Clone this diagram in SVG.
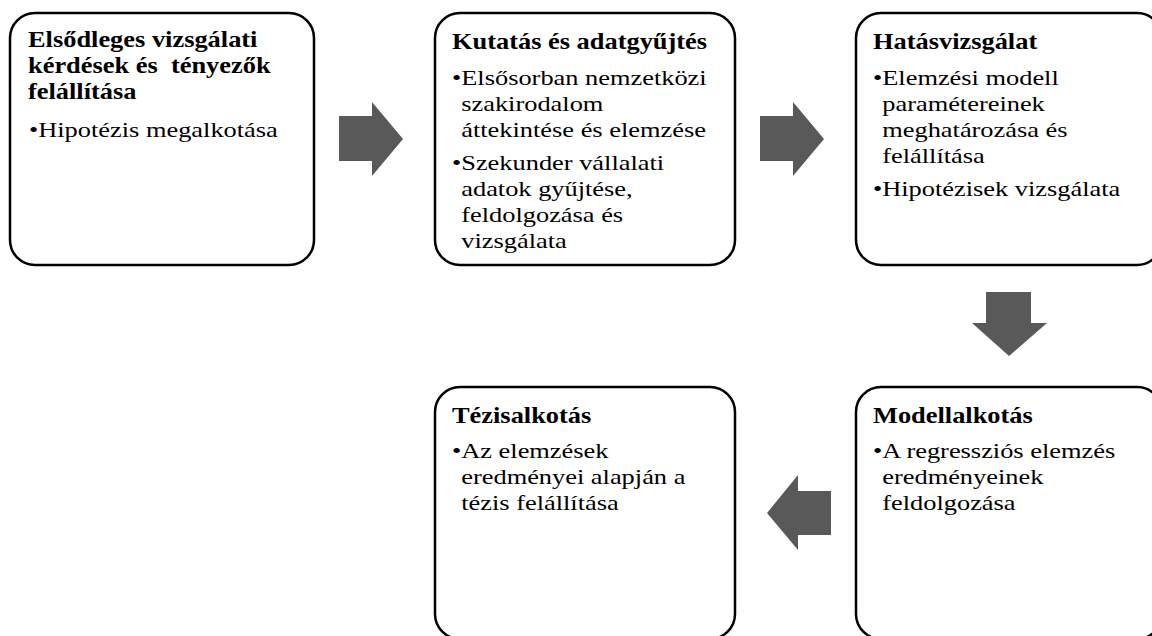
<svg xmlns="http://www.w3.org/2000/svg" width="1152" height="636" viewBox="0 0 1152 636">
<style>
.box{fill:#fff;stroke:#000;stroke-width:2.5}
.t{font-family:"Liberation Serif","Times New Roman",serif;font-weight:bold;font-size:24px;fill:#000;white-space:pre}
.b{font-family:"Liberation Serif","Times New Roman",serif;font-size:22px;fill:#000}
.arr{fill:#595959}
</style>
<rect width="1152" height="636" fill="#fff"/>
<g id="connectors">
<polygon class="arr" points="339,116 372,116 372,102 403,139 372,176 372,161 339,161"/>
<polygon class="arr" points="760,116 793,116 793,102 824,139 793,176 793,161 760,161"/>
<polygon class="arr" points="986,292 1031,292 1031,323 1047,323 1009,356 972,323 986,323"/>
<polygon class="arr" points="831,491 798,491 798,475 767,513 798,550 798,535 831,535"/>
</g>
<g id="node1">
<rect class="box" x="10" y="13" width="304" height="252" rx="25"/>
<g transform="translate(28 0) scale(1.1 1)">
<text class="t" x="0" y="47">Elsődleges vizsgálati</text>
<text class="t" x="0" y="73">kérdések és  tényezők</text>
<text class="t" x="0" y="99">felállítása</text>
</g>
<g transform="translate(29 0) scale(1.2 1)">
<text class="b" x="0" y="137">•Hipotézis megalkotása</text>
</g>
</g>
<g id="node2">
<rect class="box" x="435" y="13" width="300" height="252" rx="25"/>
<g transform="translate(452 0) scale(1.1 1)">
<text class="t" x="0" y="49">Kutatás és adatgyűjtés</text>
</g>
<g transform="translate(452 0) scale(1.2 1)">
<text class="b" x="0" y="85">•Elsősorban nemzetközi</text>
<text class="b" x="7.7" y="111">szakirodalom</text>
<text class="b" x="7.7" y="137">áttekintése és elemzése</text>
<text class="b" x="0" y="170">•Szekunder vállalati</text>
<text class="b" x="7.7" y="196">adatok gyűjtése,</text>
<text class="b" x="7.7" y="222">feldolgozása és</text>
<text class="b" x="7.7" y="248">vizsgálata</text>
</g>
</g>
<g id="node3">
<rect class="box" x="856" y="13" width="306" height="252" rx="25"/>
<g transform="translate(873 0) scale(1.1 1)">
<text class="t" x="0" y="49">Hatásvizsgálat</text>
</g>
<g transform="translate(873 0) scale(1.2 1)">
<text class="b" x="0" y="85">•Elemzési modell</text>
<text class="b" x="7.7" y="111">paramétereinek</text>
<text class="b" x="7.7" y="137">meghatározása és</text>
<text class="b" x="7.7" y="163">felállítása</text>
<text class="b" x="0" y="196">•Hipotézisek vizsgálata</text>
</g>
</g>
<g id="node4">
<rect class="box" x="435" y="387" width="300" height="252" rx="25"/>
<g transform="translate(452 0) scale(1.1 1)">
<text class="t" x="0" y="423">Tézisalkotás</text>
</g>
<g transform="translate(452 0) scale(1.2 1)">
<text class="b" x="0" y="458">•Az elemzések</text>
<text class="b" x="7.7" y="484">eredményei alapján a</text>
<text class="b" x="7.7" y="510">tézis felállítása</text>
</g>
</g>
<g id="node5">
<rect class="box" x="856" y="387" width="306" height="252" rx="25"/>
<g transform="translate(873 0) scale(1.1 1)">
<text class="t" x="0" y="423">Modellalkotás</text>
</g>
<g transform="translate(873 0) scale(1.2 1)">
<text class="b" x="0" y="458">•A regressziós elemzés</text>
<text class="b" x="7.7" y="484">eredményeinek</text>
<text class="b" x="7.7" y="510">feldolgozása</text>
</g>
</g>
</svg>
